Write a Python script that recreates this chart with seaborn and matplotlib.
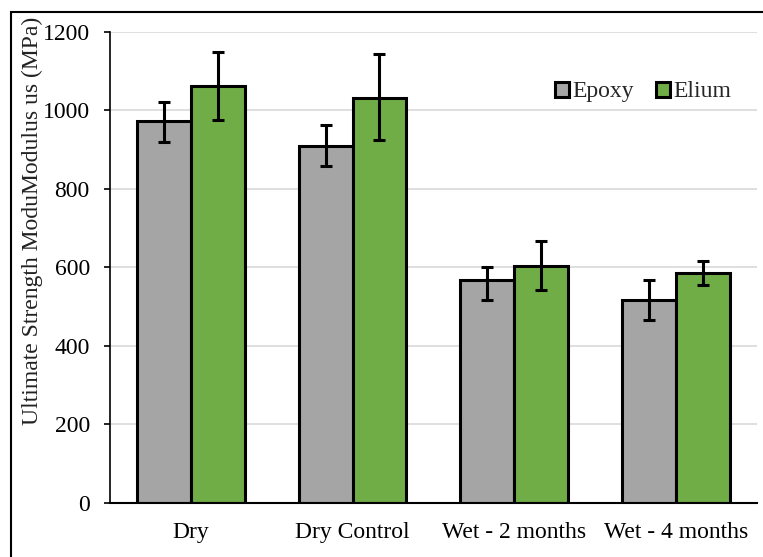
import matplotlib
matplotlib.use("Agg")
import matplotlib.pyplot as plt
import seaborn as sns
import pandas as pd
import numpy as np
from matplotlib.patches import Rectangle, Patch

categories = ["Dry", "Dry Control", "Wet - 2 months", "Wet - 4 months"]
series = ["Epoxy", "Elium"]
epoxy_vals = [973, 910, 568, 518]
elium_vals = [1062, 1032, 604, 586]
epoxy_err_low = [53, 51, 51, 51]
epoxy_err_high = [49, 53, 32, 51]
elium_err_low = [87, 108, 63, 30]
elium_err_high = [88, 111, 63, 29]
y_ticks = [0, 200, 400, 600, 800, 1000, 1200]
y_label = "Ultimate Strength ModuModulus us (MPa)"
colors = ["#A5A5A5", "#70AD47"]

sns.set_theme(style="white")
plt.rcParams["font.family"] = ["Liberation Serif", "DejaVu Serif"]

df = pd.DataFrame({
    "Category": categories * 2,
    "Series": [series[0]] * 4 + [series[1]] * 4,
    "Value": epoxy_vals + elium_vals,
})

fig = plt.figure(figsize=(7.63, 5.57), dpi=100)
ax = fig.add_axes([110 / 763, 1 - 502.7 / 557, (756.7 - 110) / 763, (502.7 - 32) / 557])

sns.barplot(data=df, x="Category", y="Value", hue="Series", palette=colors,
            order=categories, hue_order=series, width=0.667, gap=0,
            saturation=1, errorbar=None, edgecolor="black", linewidth=2.2,
            ax=ax, zorder=2, legend=False)

errs = [(epoxy_err_low, epoxy_err_high), (elium_err_low, elium_err_high)]
vals = [epoxy_vals, elium_vals]
for cont, (lo, hi), v in zip(ax.containers, errs, vals):
    xs = [p.get_x() + p.get_width() / 2 for p in cont.patches]
    ax.errorbar(xs, v, yerr=[lo, hi], fmt="none", ecolor="black",
                elinewidth=2.2, capsize=4.2, capthick=2.2, zorder=3)

ax.set_ylim(0, 1200)
ax.set_yticks(y_ticks)
ax.set_xlim(-0.5, 3.5)
ax.yaxis.grid(True, color="#D9D9D9", linewidth=1.2, zorder=0)
ax.set_axisbelow(True)
for s in ["top", "right"]:
    ax.spines[s].set_visible(False)
ax.spines["left"].set_color("black")
ax.spines["left"].set_linewidth(1.2)
ax.spines["bottom"].set_color("black")
ax.spines["bottom"].set_linewidth(1.5)
ax.tick_params(axis="y", which="major", left=True, length=4.5, width=1.2,
               color="black", pad=10, labelsize=17, labelcolor="black")
ax.tick_params(axis="x", length=0, pad=14, labelsize=17, labelcolor="black")
ax.set_xlabel("")
ax.set_ylabel("")
fig.text(32 / 763, 1 - 221 / 557, y_label, rotation=90, ha="center", va="center",
         fontsize=17, color="#222222")

handles = [Patch(facecolor=c, edgecolor="black", linewidth=2.2) for c in colors]
leg = ax.legend(handles, series, loc="upper right", bbox_to_anchor=(0.975, 0.915),
                ncol=2, frameon=False, fontsize=17, handlelength=0.6,
                handleheight=0.6, handletextpad=0.15, columnspacing=0.9,
                borderaxespad=0)

fig.add_artist(Rectangle((10.5 / 763, -0.02), 1.05, 1 - 11.5 / 557 + 0.02,
                         transform=fig.transFigure, fill=False,
                         edgecolor="black", linewidth=1.5, clip_on=False))

fig.savefig("out.png", dpi=100)
